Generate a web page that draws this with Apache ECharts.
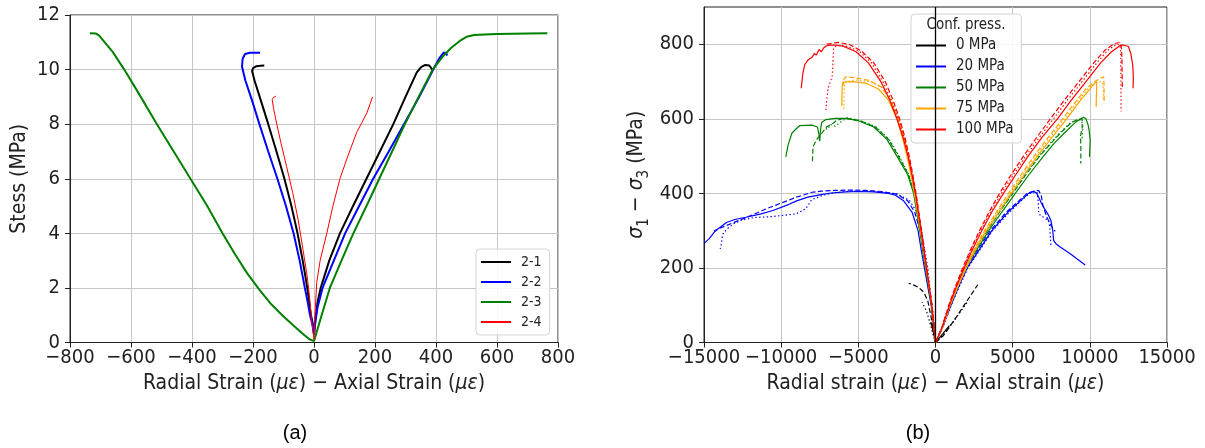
<!DOCTYPE html>
<html>
<head>
<meta charset="utf-8">
<script src="https://cdn.jsdelivr.net/npm/echarts@6/dist/echarts.min.js"></script>
<style>
html,body{margin:0;padding:0;background:#fff;}
#c{width:1205px;height:448px;}
</style>
</head>
<body>
<div id="c"></div>
<script>
// ---------- Panel (a): stress vs strain, tests 2-1 .. 2-4 ----------
const testNames = ['2-1', '2-2', '2-3', '2-4'];
const t21Radial = [[0,0.3],[-4,0.7],[-10,1.0],[-16,1.5],[-22,2.0],[-37,3.0],[-54,4.0],[-74,5.0],[-97,6.0],[-123,7.0],[-150,8.0],[-178,9.0],[-195,9.6],[-203,9.95],[-200,10.05],[-190,10.12],[-175,10.14],[-163,10.15]];
const t21Axial = [[0,0.3],[5,0.9],[12,1.5],[22,2.0],[50,3.0],[85,4.0],[128,5.0],[172,6.0],[216,7.0],[260,8.0],[300,9.0],[337,9.9],[352,10.1],[365,10.17],[378,10.15],[389,9.98]];
const t22Radial = [[0,0.3],[-6,0.7],[-13,1.0],[-21,1.5],[-30,2.0],[-47,3.0],[-67,4.0],[-92,5.0],[-120,6.0],[-150,7.0],[-179,8.0],[-204,8.9],[-225,9.6],[-236,10.1],[-234,10.4],[-226,10.57],[-210,10.62],[-177,10.62]];
const t22Axial = [[0,0.3],[5,0.8],[12,1.3],[28,2.0],[65,3.0],[102,4.0],[148,5.0],[194,6.0],[245,7.0],[295,8.0],[345,9.0],[391,10.0],[410,10.4],[425,10.62],[432,10.62],[437,10.52]];
const t23Radial = [[0,0.05],[-15,0.12],[-40,0.35],[-70,0.65],[-100,0.95],[-140,1.4],[-180,1.95],[-220,2.55],[-260,3.25],[-300,4.0],[-350,5.0],[-405,6.0],[-460,7.0],[-515,8.0],[-568,9.0],[-622,10.0],[-660,10.65],[-690,11.05],[-705,11.25],[-715,11.32],[-735,11.33]];
const t23Axial = [[0,0.05],[3,0.1],[25,1.0],[52,2.0],[90,3.0],[129,4.0],[172,5.0],[214,6.0],[256,7.0],[298,8.0],[343,9.0],[389,10.0],[420,10.45],[450,10.8],[478,11.05],[500,11.2],[525,11.27],[560,11.29],[600,11.3],[650,11.31],[700,11.32],[765,11.33]];
const t24Radial = [[0,0.1],[-4,0.5],[-8,0.82],[-14,1.6],[-22,2.4],[-36,3.4],[-52,4.5],[-70,5.5],[-90,6.45],[-108,7.3],[-122,8.0],[-133,8.6],[-137,8.9],[-133,8.98],[-125,9.03]];
const t24Axial = [[0,0.1],[3,1.0],[9,2.2],[20,3.0],[42,4.0],[62,5.0],[85,6.0],[110,6.8],[140,7.7],[173,8.4],[192,9.0]];
const aXTicks = {min: -800, max: 800, step: 200};
const aYTicks = {min: 0, max: 12, step: 2};

// ---------- Panel (b): deviatoric stress vs strain, confining pressures ----------
const pressNames = ['0 MPa', '20 MPa', '50 MPa', '75 MPa', '100 MPa'];
// solid / dashed / dotted = three tests per confining pressure; Rad = radial (negative), Ax = axial
const p0SolidRad = [[0,0],[-150,30],[-300,55]];
const p0SolidAx = [[0,0],[400,20],[900,45]];
const p0DashRad = [[0,0],[-110,22],[-280,67],[-500,112],[-760,135],[-1100,148],[-1400,154],[-1740,159]];
const p0DashAx = [[0,0],[500,18],[1185,58],[2050,112],[2740,155]];
const p0DotRad = [[0,0],[-150,20],[-330,49],[-590,85],[-870,108]];
const p0DotAx = [[0,0],[700,30],[1400,70],[2050,108]];

const p20SolidRad = [[0,0],[-110,40],[-283,100],[-500,150],[-717,200],[-930,250],[-1130,300],[-1522,350],[-2065,380],[-2600,395],[-3044,400],[-4000,404],[-5000,405],[-5800,404],[-6770,401],[-7500,396],[-8276,390],[-9000,380],[-9530,370],[-10534,354],[-11300,345],[-12290,336],[-13000,330],[-13543,322],[-14000,308],[-14296,298],[-14673,278],[-15000,266]];
const p20SolidAx = [[0,0],[450,40],[1000,100],[1500,150],[2050,200],[2850,250],[3650,300],[4700,350],[5500,380],[6030,400],[6380,406],[6560,400],[6680,390],[6850,375],[7000,363],[7200,350],[7330,341],[7480,327],[7600,300],[7650,274],[7800,265],[8080,256],[8730,238],[9700,208]];
const p20DashRad = [[0,0],[-100,40],[-250,100],[-420,150],[-587,200],[-800,250],[-1000,300],[-1350,350],[-1800,380],[-2500,398],[-3500,405],[-4500,408],[-5500,409],[-6500,408],[-7400,406],[-8000,403],[-9000,390],[-10000,374],[-11000,358],[-12000,340],[-13000,323],[-14000,306],[-14350,299]];
const p20DashAx = [[0,0],[430,40],[950,100],[1450,150],[1980,200],[2750,250],[3550,300],[4600,350],[5400,380],[5950,400],[6300,405],[6680,408],[6850,395],[6950,370],[7100,350],[7220,336],[7400,320],[7550,309],[7760,298]];
const p20DotRad = [[0,0],[-90,40],[-230,100],[-380,150],[-500,200],[-700,250],[-900,300],[-1200,350],[-1700,382],[-2500,398],[-3500,404],[-4500,406],[-5500,406],[-6500,402],[-7300,395],[-8026,383],[-8402,359],[-9029,345],[-10534,338],[-11788,335],[-12600,328],[-13100,318],[-13500,305],[-13800,290],[-13850,270],[-13950,251]];
const p20DotAx = [[0,0],[470,40],[1020,100],[1550,150],[2100,200],[2900,250],[3700,300],[4800,350],[5600,382],[6100,400],[6570,404],[6650,380],[6690,345],[6850,340],[7000,336],[7330,327],[7400,310],[7435,292],[7478,256]];

const p50SolidRad = [[0,0],[-100,40],[-261,100],[-450,150],[-652,200],[-840,250],[-1022,300],[-1220,350],[-1420,400],[-1800,450],[-2500,500],[-3150,545],[-4000,578],[-5000,595],[-5800,601],[-6500,601],[-7100,598],[-7380,590],[-7450,570],[-7500,540],[-7560,560],[-7650,578],[-8000,583],[-8800,582],[-9300,562],[-9550,530],[-9700,498]];
const p50SolidAx = [[0,0],[450,40],[950,100],[1450,150],[1950,200],[2700,250],[3450,300],[4300,350],[5170,400],[6050,450],[7000,500],[7700,535],[8300,560],[9050,590],[9400,600],[9600,604],[9750,600],[9880,585],[9950,570],[10020,543],[10000,520],[9980,498]];
const p50DashRad = [[0,0],[-90,40],[-240,100],[-420,150],[-610,200],[-800,250],[-980,300],[-1170,350],[-1370,400],[-1750,450],[-2400,500],[-3050,545],[-3900,578],[-4900,595],[-5900,602],[-6400,596],[-6630,588],[-7065,578],[-7391,560],[-7717,543],[-7935,525],[-7980,480]];
const p50DashAx = [[0,0],[430,40],[900,100],[1400,150],[1900,200],[2600,250],[3350,300],[4150,350],[5000,400],[5850,450],[6750,500],[7500,535],[8050,560],[8800,590],[9300,600],[9500,600],[9600,595],[9500,575],[9400,555],[9420,520],[9417,480]];
const p50DotRad = [[0,0],[-80,40],[-230,100],[-400,150],[-590,200],[-780,250],[-960,300],[-1150,350],[-1350,400],[-1720,450],[-2350,500],[-3000,545],[-3850,578],[-4850,595],[-5700,603],[-6200,590],[-6500,580],[-6800,585],[-7000,572],[-7200,575]];
const p50DotAx = [[0,0],[420,40],[880,100],[1380,150],[1880,200],[2560,250],[3300,300],[4100,350],[4950,400],[5800,450],[6700,500],[7450,535],[8000,560],[8750,590],[9250,598],[9450,596],[9550,580],[9520,560],[9482,543]];

const p75SolidRad = [[0,0],[-95,40],[-239,100],[-420,150],[-609,200],[-790,250],[-978,300],[-1170,350],[-1370,400],[-1600,450],[-1848,500],[-2150,550],[-2500,600],[-3044,650],[-3696,680],[-4457,695],[-5326,700],[-5900,699],[-6030,697],[-6060,660],[-6070,634]];
const p75SolidAx = [[0,0],[450,40],[950,100],[1450,150],[2000,200],[2600,250],[3300,300],[4100,350],[4900,400],[5750,450],[6600,500],[7550,550],[8500,600],[9400,650],[10000,680],[10300,695],[10430,700],[10440,680],[10420,655],[10410,632]];
const p75DashRad = [[0,0],[-90,40],[-225,100],[-400,150],[-580,200],[-760,250],[-940,300],[-1120,350],[-1310,400],[-1530,450],[-1770,500],[-2050,550],[-2400,600],[-2900,650],[-3500,685],[-4300,703],[-5200,710],[-5820,713],[-5950,705],[-5980,690]];
const p75DashAx = [[0,0],[430,40],[920,100],[1400,150],[1930,200],[2500,250],[3180,300],[3950,350],[4730,400],[5550,450],[6380,500],[7300,550],[8250,600],[9150,650],[9800,683],[10400,702],[10900,713],[10920,690],[10925,660],[10930,641]];
const p75DotRad = [[0,0],[-85,40],[-215,100],[-390,150],[-570,200],[-750,250],[-930,300],[-1100,350],[-1290,400],[-1510,450],[-1750,500],[-2020,550],[-2370,600],[-2850,650],[-3450,683],[-4200,700],[-5100,704],[-5800,700],[-5900,690],[-5930,650],[-5950,620]];
const p75DotAx = [[0,0],[440,40],[935,100],[1420,150],[1960,200],[2550,250],[3240,300],[4020,350],[4810,400],[5650,450],[6500,500],[7420,550],[8380,600],[9280,650],[9900,682],[10500,698],[10800,700],[10850,690],[10900,670],[10880,650]];

const p100SolidRad = [[0,0],[-95,40],[-239,100],[-410,150],[-587,200],[-760,250],[-935,300],[-1120,350],[-1304,400],[-1530,450],[-1783,500],[-2100,550],[-2500,600],[-2960,650],[-3543,700],[-4348,750],[-5152,780],[-5978,795],[-6600,798],[-7065,796],[-7250,790],[-7391,780],[-7550,786],[-7717,771],[-7850,775],[-8000,765],[-8261,758],[-8478,745],[-8600,720],[-8650,700],[-8700,682]];
const p100SolidAx = [[0,0],[430,40],[900,100],[1350,150],[1850,200],[2400,250],[3000,300],[3650,350],[4400,400],[5200,450],[6000,500],[6900,550],[7900,600],[8800,650],[9750,700],[10700,750],[11400,780],[11900,795],[12150,798],[12500,794],[12650,776],[12780,745],[12820,710],[12800,682]];
const p100DashRad = [[0,0],[-90,40],[-225,100],[-390,150],[-560,200],[-730,250],[-900,300],[-1080,350],[-1260,400],[-1470,450],[-1700,500],[-1980,550],[-2326,600],[-2750,650],[-3261,700],[-4000,750],[-4800,782],[-5600,800],[-6300,805],[-6700,802],[-7150,800]];
const p100DashAx = [[0,0],[410,40],[860,100],[1290,150],[1760,200],[2280,250],[2850,300],[3470,350],[4150,400],[4900,450],[5700,500],[6550,550],[7450,600],[8350,650],[9300,700],[10250,750],[11000,785],[11600,802],[11950,805],[12050,790],[12080,760],[12100,700],[12120,680]];
const p100DotRad = [[0,0],[-92,40],[-230,100],[-400,150],[-570,200],[-745,250],[-915,300],[-1100,350],[-1280,400],[-1500,450],[-1740,500],[-2040,550],[-2420,600],[-2880,650],[-3413,700],[-4150,750],[-4950,782],[-5800,795],[-6400,797],[-6600,790],[-6630,770],[-6650,740],[-6700,713],[-6960,682],[-7050,650],[-7109,619]];
const p100DotAx = [[0,0],[420,40],[880,100],[1320,150],[1800,200],[2330,250],[2920,300],[3560,350],[4270,400],[5050,450],[5850,500],[6720,550],[7650,600],[8550,650],[9500,700],[10450,750],[11200,785],[11750,800],[11950,798],[12000,780],[12010,720],[12020,660],[12025,620]];
const bXTicks = {min: -15000, max: 15000, step: 5000};
const bYTicks = [0, 200, 400, 600, 800];
const bYMax = 900;

// ---------- styling ----------
const FONT = "'DejaVu Sans Condensed','DejaVu Sans',sans-serif";
const AXC = '#222';
const GRIDC = '#c6c6c6';
const fmt = v => (v < 0 ? '\u2212' + Math.abs(v) : String(v));

function lineSeries(name, data, color, width, dash, xi) {
  return {
    type: 'line', name: name, data: data, xAxisIndex: xi, yAxisIndex: xi,
    showSymbol: false, symbol: 'none', smooth: false, silent: true,
    itemStyle: {color: color},
    lineStyle: {color: color, width: width, type: dash},
    emphasis: {disabled: true}, z: 2
  };
}

const DASH = [5, 2.5];
const DOT = [1.4, 2.4];
const series = [];
// panel (a)
const aCols = ['#000000', '#0000ff', '#008000', '#ff0000'];
const aW = [2, 2, 2, 1];
[[t21Radial, t21Axial], [t22Radial, t22Axial], [t23Radial, t23Axial], [t24Radial, t24Axial]].forEach((pair, i) => {
  pair.forEach(d => series.push(lineSeries(testNames[i], d, aCols[i], aW[i], 'solid', 0)));
});
// panel (b)
const bCols = ['#000000', '#0000ff', '#008000', '#ffa500', '#ff0000'];
const bSets = [
  [p0SolidRad, p0SolidAx, p0DashRad, p0DashAx, p0DotRad, p0DotAx],
  [p20SolidRad, p20SolidAx, p20DashRad, p20DashAx, p20DotRad, p20DotAx],
  [p50SolidRad, p50SolidAx, p50DashRad, p50DashAx, p50DotRad, p50DotAx],
  [p75SolidRad, p75SolidAx, p75DashRad, p75DashAx, p75DotRad, p75DotAx],
  [p100SolidRad, p100SolidAx, p100DashRad, p100DashAx, p100DotRad, p100DotAx]
];
const styles = ['solid', 'solid', DASH, DASH, DOT, DOT];
bSets.forEach((set, i) => {
  set.forEach((d, j) => series.push(lineSeries(pressNames[i], d, bCols[i], 1.2, styles[j], 1)));
});
// vertical zero line in panel (b)
series.push({
  type: 'line', xAxisIndex: 1, yAxisIndex: 1, data: [], silent: true,
  markLine: {silent: true, symbol: ['none', 'none'], label: {show: false},
    lineStyle: {color: '#000', width: 1.3, type: 'solid'}, data: [{xAxis: 0}], animation: false},
  z: 3
});

const richName = {
  n: {fontFamily: FONT, fontSize: 21, color: '#222', lineHeight: 26, verticalAlign: 'top'},
  i: {fontFamily: FONT, fontSize: 21, color: '#222', fontStyle: 'italic', lineHeight: 26, verticalAlign: 'top'},
  s: {fontFamily: FONT, fontSize: 15, color: '#222', lineHeight: 15, verticalAlign: 'bottom'}
};

function xAxisCfg(gi, t, nameRich) {
  return {
    gridIndex: gi, type: 'value', min: t.min, max: t.max, interval: t.step,
    axisLine: {show: true, onZero: false, lineStyle: {color: AXC, width: 1}},
    axisTick: {show: true, length: 5, lineStyle: {color: AXC}},
    axisLabel: {fontFamily: FONT, fontSize: 20, color: '#222', margin: 5, formatter: fmt},
    splitLine: {show: true, lineStyle: {color: GRIDC, width: 1}},
    name: nameRich, nameLocation: 'middle', nameGap: 31,
    nameTextStyle: {fontFamily: FONT, fontSize: 21, color: '#222',
      rich: {n: {fontFamily: FONT, fontSize: 21, color: '#222'},
             i: {fontFamily: FONT, fontSize: 21, color: '#222', fontStyle: 'italic'}}}
  };
}

const option = {
  animation: false,
  backgroundColor: '#fff',
  grid: [
    {left: 70, top: 15, width: 488, height: 327.5, show: true, borderColor: AXC, borderWidth: 1, containLabel: false},
    {left: 704, top: 7, width: 463, height: 335.5, show: true, borderColor: AXC, borderWidth: 1, containLabel: false}
  ],
  xAxis: [
    xAxisCfg(0, aXTicks, '{n|Radial Strain (}{i|\u03bc\u03b5}{n|) \u2212 Axial Strain (}{i|\u03bc\u03b5}{n|)}'),
    xAxisCfg(1, bXTicks, '{n|Radial strain (}{i|\u03bc\u03b5}{n|) \u2212 Axial strain (}{i|\u03bc\u03b5}{n|)}')
  ],
  yAxis: [
    {
      gridIndex: 0, type: 'value', min: aYTicks.min, max: aYTicks.max, interval: aYTicks.step,
      axisLine: {show: true, onZero: false, lineStyle: {color: AXC}},
      axisTick: {show: true, length: 5, lineStyle: {color: AXC}},
      axisLabel: {fontFamily: FONT, fontSize: 20, color: '#222', margin: 10, formatter: fmt},
      splitLine: {show: true, lineStyle: {color: GRIDC, width: 1}},
      name: 'Stess (MPa)', nameLocation: 'middle', nameGap: 40,
      nameTextStyle: {fontFamily: FONT, fontSize: 21, color: '#222'}
    },
    {
      gridIndex: 1, type: 'value', min: 0, max: bYMax, interval: 200,
      axisLine: {show: true, onZero: false, lineStyle: {color: AXC}},
      axisTick: {show: true, length: 5, lineStyle: {color: AXC}, customValues: bYTicks},
      axisLabel: {fontFamily: FONT, fontSize: 20, color: '#222', margin: 10, formatter: fmt, customValues: bYTicks},
      splitLine: {show: true, lineStyle: {color: GRIDC, width: 1}},
      name: '{i|\u03c3}{s|1}{n| \u2212 }{i|\u03c3}{s|3}{n| (MPa)}', nameLocation: 'middle', nameGap: 52,
      nameTextStyle: {fontFamily: FONT, fontSize: 21, color: '#222', rich: richName}
    }
  ],
  legend: [
    {
      data: testNames, orient: 'vertical', left: 476, top: 249,
      icon: 'rect', itemWidth: 30, itemHeight: 2, itemGap: 6,
      padding: [6, 8, 6, 5],
      backgroundColor: 'rgba(255,255,255,0.85)', borderColor: '#d4d4d4', borderWidth: 1, borderRadius: 4,
      itemStyle: {borderWidth: 0},
      textStyle: {fontFamily: FONT, fontSize: 14, color: '#222', lineHeight: 14, padding: [0, 0, 0, 5]},
      selectedMode: false
    },
    {
      data: pressNames, orient: 'vertical', left: 911, top: 14,
      icon: 'rect', itemWidth: 30, itemHeight: 2, itemGap: 6,
      padding: [24, 8, 6, 5],
      backgroundColor: 'rgba(255,255,255,0.85)', borderColor: '#d4d4d4', borderWidth: 1, borderRadius: 4,
      itemStyle: {borderWidth: 0},
      textStyle: {fontFamily: FONT, fontSize: 15, color: '#222', lineHeight: 14, padding: [0, 0, 0, 5]},
      selectedMode: false
    }
  ],
  graphic: [
    {type: 'text', x: 966, y: 25, z: 100,
      style: {text: 'Conf. press.', font: "15px 'DejaVu Sans Condensed','DejaVu Sans'", fill: '#222', align: 'center', verticalAlign: 'middle'}},
    {type: 'text', x: 295, y: 433, z: 100,
      style: {text: '(a)', font: "20px 'Liberation Sans', Arial", fill: '#000', align: 'center', verticalAlign: 'middle'}},
    {type: 'text', x: 918, y: 433, z: 100,
      style: {text: '(b)', font: "20px 'Liberation Sans', Arial", fill: '#000', align: 'center', verticalAlign: 'middle'}}
  ],
  series: series
};

const chart = echarts.init(document.getElementById('c'), null, {renderer: 'canvas'});
chart.setOption(option);
</script>
</body>
</html>
